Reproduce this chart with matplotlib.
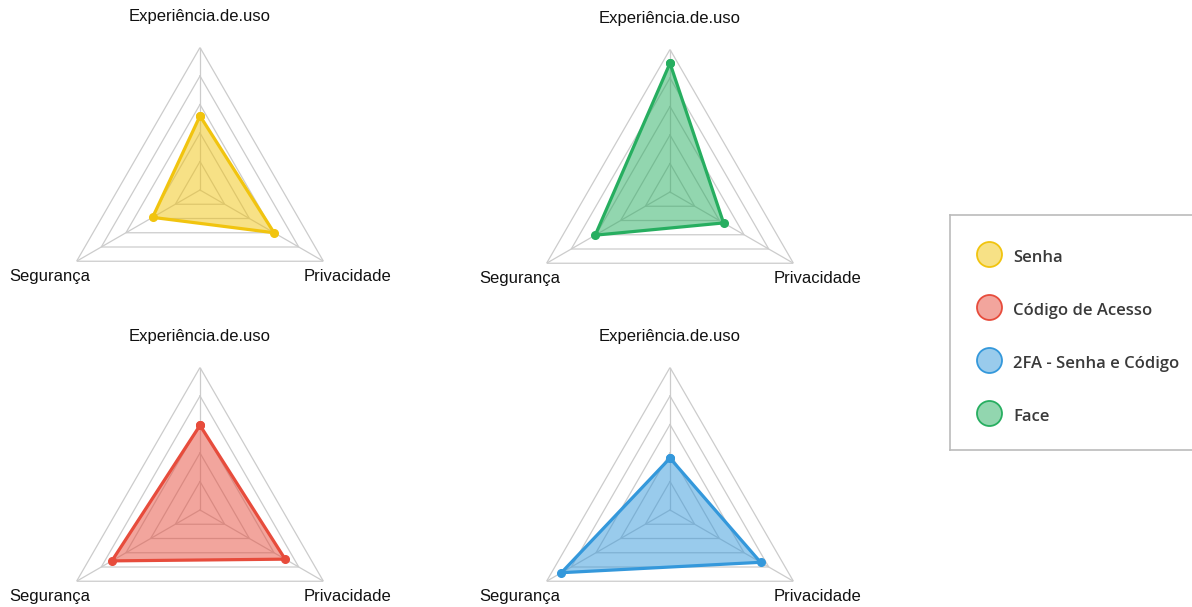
import numpy as np
import matplotlib.pyplot as plt
from matplotlib.colors import to_rgb

categories = ['Experiência.de.uso', 'Privacidade', 'Segurança']
series_names = ['Senha', 'Código de Acesso', '2FA - Senha e Código', 'Face']
senha = [2.6, 3.0, 1.92]
codigo = [2.97, 3.45, 3.57]
dois_fa = [1.82, 3.67, 4.4]
face = [4.52, 2.17, 3.03]
colors = {'Senha': '#f1c40f', 'Código de Acesso': '#e74c3c',
          '2FA - Senha e Código': '#3498db', 'Face': '#27ae60'}
r_max = 5
levels = [1, 2, 3, 4, 5]

W, H = 1192, 607
fig = plt.figure(figsize=(W / 100, H / 100), dpi=100)

R = 142.5
panels = [('Senha', senha, 200, 190), ('Face', face, 670, 192),
          ('Código de Acesso', codigo, 200, 510), ('2FA - Senha e Código', dois_fa, 670, 510)]

theta = np.linspace(0, 2 * np.pi, len(categories), endpoint=False)
theta_c = np.append(theta, theta[0])

for name, vals, cx, cy in panels:
    ax = fig.add_axes([(cx - R) / W, (H - cy - R) / H, 2 * R / W, 2 * R / H],
                      projection='polar')
    ax.set_theta_offset(np.pi / 2)
    ax.set_theta_direction(-1)
    ax.set_ylim(0, r_max)
    ax.grid(False)
    ax.set_xticks([])
    ax.set_yticks([])
    ax.spines['polar'].set_visible(False)
    ax.patch.set_alpha(0)
    # triangular grid + spokes
    for lv in levels:
        ax.plot(theta_c, [lv] * len(theta_c), color='#cccccc', lw=0.9, zorder=1)
    for t in theta:
        ax.plot([t, t], [0, r_max], color='#cccccc', lw=0.9, zorder=1)
    v = np.append(vals, vals[0])
    c = colors[name]
    ax.fill(theta_c, v, color=c, alpha=0.5, lw=0, zorder=2)
    ax.plot(theta_c, v, color=c, lw=2.3, marker='o', ms=5.5, zorder=3)
    offsets = [(0, 22), (17, -11), (-19, -11)]
    for t, lab, off in zip(theta, categories, offsets):
        ax.annotate(lab, xy=(t, r_max), xytext=off, textcoords='offset points',
                    ha='center', va='center', fontsize=12, color='#111111',
                    family='Liberation Sans', annotation_clip=False)

# legend box (right edge runs off the figure, as in the original)
lx0, ly0, lx1, ly1 = 950, 215, 1210, 450
lax = fig.add_axes([lx0 / W, (H - ly1) / H, (lx1 - lx0) / W, (ly1 - ly0) / H])
lax.set_xlim(lx0, lx1)
lax.set_ylim(ly1, ly0)
lax.set_xticks([])
lax.set_yticks([])
for s in lax.spines.values():
    s.set_color('#bbbbbb')
    s.set_linewidth(1.2)
item_y = [254, 307, 360, 413]
for nm, yy in zip(series_names, item_y):
    c = colors[nm]
    lax.plot([989], [yy], marker='o', ms=18, mec=c, mew=1.3,
             mfc=(*to_rgb(c), 0.5))
    lax.text(1013, yy + 8, nm, va='baseline', ha='left', fontsize=12, color='#3a3a3a',
             family='Open Sans', weight='semibold')

fig.savefig('out.png', dpi=100)
